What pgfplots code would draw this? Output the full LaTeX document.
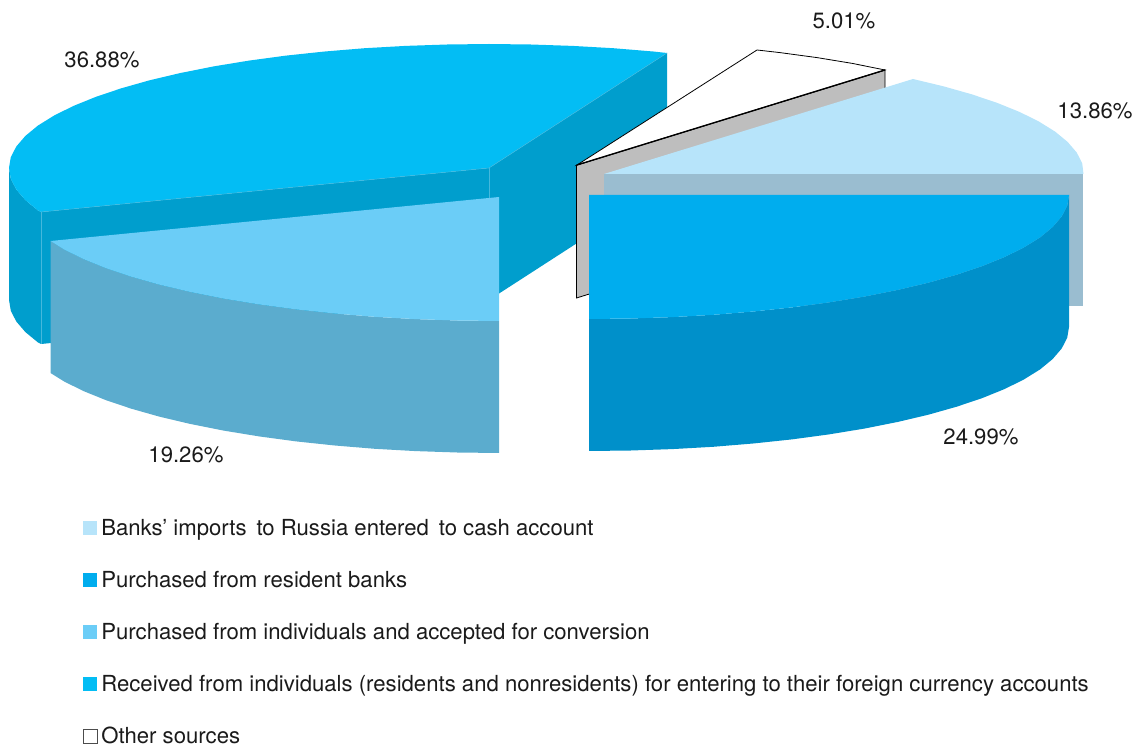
\documentclass[border=0pt]{standalone}
\usepackage{fontspec}
\setmainfont{TeX Gyre Heros}
\usepackage{pgfplots}
\pgfplotsset{compat=1.18}
\definecolor{dtop}{HTML}{03BDF4}
\definecolor{dside}{HTML}{009ECD}
\definecolor{dline}{HTML}{45B8DC}
\definecolor{ctop}{HTML}{6BCDF7}
\definecolor{cside}{HTML}{5BACCE}
\definecolor{btop}{HTML}{00ADEE}
\definecolor{bside}{HTML}{0090CA}
\definecolor{atop}{HTML}{B7E4FA}
\definecolor{aside}{HTML}{9ABDD0}
\definecolor{gside}{HTML}{BEBEBE}
\definecolor{txt}{HTML}{1A1A1A}
\pgfplotsset{
  face/.style={draw=none,mark=none,forget plot},
  swatch/.style={legend image code/.code={\path[draw=none,#1] (0pt,-3.75pt) rectangle (10.5pt,6.75pt); \path (11.25pt,0pt);}},
}
\begin{document}
\begin{tikzpicture}
\begin{axis}[
  scale only axis,width=854.25pt,height=561.75pt,
  xmin=0,xmax=1139,ymin=0,ymax=749,y dir=reverse,
  axis lines=none,clip=false,
  legend cell align=left,
  legend style={at={(axis cs:83,517)},anchor=north west,draw=none,fill=none,font=\fontsize{16.6}{19}\selectfont\color{txt},
    row sep=19pt,inner sep=0pt,outer sep=0pt,
    nodes={text height=12pt,text depth=4pt,inner sep=2pt}},
]
% invisible page frame
\addplot[draw=none,mark=none,forget plot] coordinates {(0,0)(1139,749)};
% Received from individuals 36.88%
\addplot[face,fill=dside] coordinates {(489,168)(667,53)(667,185)(489,300)} --cycle;
\addplot[face,fill=dside] coordinates {(9,168)(10.8,178.8)(16.3,189.5)(25.4,200.1)(37.9,210.4)(41,212)(41,344)(37.9,342.4)(25.4,332.1)(16.3,321.5)(10.8,310.8)(9,300)} --cycle;
\addplot[face,fill=dside] coordinates {(41,212)(489,168)(489,300)(41,344)} --cycle;
\addplot[mark=none,forget plot,dline,line width=0.35pt] coordinates {(41,212)(41,344)};
\addplot[mark=none,forget plot,dline,line width=0.35pt] coordinates {(489,168)(489,300)};
\addplot[face,fill=dtop] coordinates {(489,168)(667,53)(653.2,51.5)(613.2,48.2)(572.4,45.9)(530.8,44.5)(489,44)(447.2,44.5)(405.6,45.9)(364.8,48.2)(324.8,51.5)(286.1,55.6)(249,60.6)(213.7,66.4)(180.5,73)(149.6,80.3)(121.3,88.3)(95.8,96.9)(73.3,106)(54,115.6)(37.9,125.6)(25.4,135.9)(16.3,146.5)(10.8,157.2)(9,168)(10.8,178.8)(16.3,189.5)(25.4,200.1)(37.9,210.4)(41,212)} --cycle;
\addplot[mark=none,forget plot,dline,line width=0.35pt] coordinates {(41,212)(489,168)(667,53)};
% Other sources 5.01%
\addplot[mark=none,forget plot,fill=gside,draw=black,line width=0.6pt] coordinates {(576.5,165)(885,70)(885,202)(576.5,298)} --cycle;
\addplot[mark=none,forget plot,fill=white,draw=black,line width=0.6pt] coordinates {(577,165)(757,50)(779.9,52.6)(817,57.6)(852.3,63.4)(885,70)} --cycle;
\addplot[mark=none,forget plot,black,line width=1pt] coordinates {(577,165)(885,70)};
% Banks' imports 13.86%
\addplot[face,fill=aside] coordinates {(604,174)(1083,174)(1083,306)(604,306)} --cycle;
\addplot[face,fill=atop] coordinates {(604,174)(1083.5,174)(1082.2,163.2)(1076.7,152.5)(1067.6,141.9)(1055.1,131.6)(1039,121.6)(1019.7,112)(997.2,102.9)(971.7,94.3)(943.4,86.3)(913,79)} --cycle;
% Purchased from resident banks 24.99%
\addplot[face,fill=bside] coordinates {(1069,195)(1067.2,205.8)(1061.7,216.5)(1052.6,227.1)(1040.1,237.4)(1024,247.4)(1004.7,257)(982.2,266.1)(956.7,274.7)(928.4,282.7)(897.5,290)(864.3,296.6)(829,302.4)(791.9,307.4)(753.2,311.5)(713.2,314.8)(672.4,317.1)(630.8,318.5)(589,319)(589,451)(630.8,450.5)(672.4,449.1)(713.2,446.8)(753.2,443.5)(791.9,439.4)(829,434.4)(864.3,428.6)(897.5,422)(928.4,414.7)(956.7,406.7)(982.2,398.1)(1004.7,389)(1024,379.4)(1040.1,369.4)(1052.6,359.1)(1061.7,348.5)(1067.2,337.8)(1069,327)} --cycle;
\addplot[face,fill=btop] coordinates {(589,195)(1069,195)(1067.2,205.8)(1061.7,216.5)(1052.6,227.1)(1040.1,237.4)(1024,247.4)(1004.7,257)(982.2,266.1)(956.7,274.7)(928.4,282.7)(897.5,290)(864.3,296.6)(829,302.4)(791.9,307.4)(753.2,311.5)(713.2,314.8)(672.4,317.1)(630.8,318.5)(589,319)} --cycle;
% Purchased from individuals 19.26%
\addplot[face,fill=cside] coordinates {(499,321)(457.2,320.5)(415.6,319.1)(374.8,316.8)(334.8,313.5)(296.1,309.4)(259,304.4)(223.7,298.6)(190.5,292)(159.6,284.7)(131.3,276.7)(105.8,268.1)(83.3,259)(64,249.4)(50.5,241)(50.5,373)(64,381.4)(83.3,391)(105.8,400.1)(131.3,408.7)(159.6,416.7)(190.5,424)(223.7,430.6)(259,436.4)(296.1,441.4)(334.8,445.5)(374.8,448.8)(415.6,451.1)(457.2,452.5)(499,453)} --cycle;
\addplot[face,fill=ctop] coordinates {(499,197)(499,321)(457.2,320.5)(415.6,319.1)(374.8,316.8)(334.8,313.5)(296.1,309.4)(259,304.4)(223.7,298.6)(190.5,292)(159.6,284.7)(131.3,276.7)(105.8,268.1)(83.3,259)(64,249.4)(50.5,241)} --cycle;
% labels
\node[txt,font=\fontsize{16.6}{19}\selectfont] at (axis cs:844,21) {5.01\%};
\node[txt,font=\fontsize{16.6}{19}\selectfont] at (axis cs:1095,111) {13.86\%};
\node[txt,font=\fontsize{16.6}{19}\selectfont] at (axis cs:102,60) {36.88\%};
\node[txt,font=\fontsize{16.6}{19}\selectfont] at (axis cs:981,437) {24.99\%};
\node[txt,font=\fontsize{16.6}{19}\selectfont] at (axis cs:186,455) {19.26\%};
% legend
\addlegendimage{swatch={fill=atop}}
\addlegendentry{Banks' imports\, to Russia entered\, to cash account}
\addlegendimage{swatch={fill=btop}}
\addlegendentry{Purchased from resident banks}
\addlegendimage{swatch={fill=ctop}}
\addlegendentry{Purchased from individuals and accepted for conversion}
\addlegendimage{swatch={fill=dtop}}
\addlegendentry{Received from individuals (residents and nonresidents) for entering to their foreign currency accounts}
\addlegendimage{swatch={fill=white,draw=black!70,line width=0.6pt}}
\addlegendentry{Other sources}
\end{axis}
\end{tikzpicture}
\end{document}
